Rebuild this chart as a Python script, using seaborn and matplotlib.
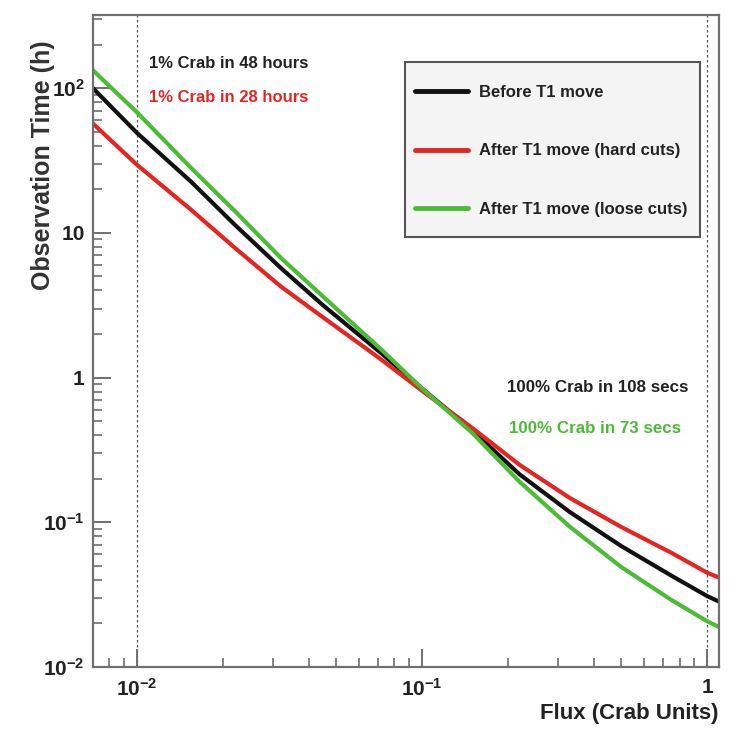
import matplotlib
matplotlib.use("Agg")
import matplotlib.pyplot as plt
from matplotlib.patches import Rectangle
from matplotlib.ticker import LogLocator, FixedLocator, FixedFormatter, NullFormatter
import numpy as np
import pandas as pd
import seaborn as sns

# ---- data ----
flux = [0.007, 0.01, 0.0155, 0.022, 0.032, 0.045, 0.072, 0.1, 0.15, 0.22, 0.33, 0.5, 0.75, 1.0, 1.1]
before = [100, 49, 22.5, 11.4, 5.7, 3.15, 1.47, 0.84, 0.43, 0.214, 0.1175, 0.0684, 0.0427, 0.0309, 0.0283]
hard = [57, 29.5, 14.4, 7.9, 4.25, 2.6, 1.33, 0.81, 0.448, 0.249, 0.147, 0.0927, 0.0614, 0.0448, 0.0415]
loose = [133, 68, 28, 14.2, 6.7, 3.62, 1.56, 0.84, 0.414, 0.19, 0.093, 0.049, 0.029, 0.0207, 0.0189]
series_names = ["Before T1 move", "After T1 move (hard cuts)", "After T1 move (loose cuts)"]
y_ticks = [0.01, 0.1, 1, 10, 100]
y_tick_labels = ["$10^{-2}$", "$10^{-1}$", "1", "10", "$10^{2}$"]
x_ticks = [0.01, 0.1, 1]
x_tick_labels = ["$10^{-2}$", "$10^{-1}$", "1"]

df = pd.DataFrame({
    "flux": flux * 3,
    "time": before + hard + loose,
    "series": [series_names[0]] * len(flux) + [series_names[1]] * len(flux) + [series_names[2]] * len(flux),
})

sns.set_style("ticks")
plt.rcParams["font.family"] = ["Liberation Sans", "DejaVu Sans"]
plt.rcParams["mathtext.fontset"] = "custom"
plt.rcParams["mathtext.rm"] = "Liberation Sans:bold"
plt.rcParams["mathtext.it"] = "Liberation Sans:bold"
plt.rcParams["mathtext.bf"] = "Liberation Sans:bold"

BLACK = "#111111"
RED = "#e52521"
GREEN = "#4dbb38"
GRAY = "#707070"

W, H = 744, 731
fig = plt.figure(figsize=(W / 100, H / 100), dpi=100)
ax = fig.add_axes([93 / W, 1 - 667 / H, (719 - 93) / W, (667 - 15) / H])

sns.lineplot(data=df, x="flux", y="time", hue="series", hue_order=series_names,
             palette=[BLACK, RED, GREEN], linewidth=3.0, ax=ax, legend=True,
             estimator=None, sort=True)

ax.set_xscale("log")
ax.set_yscale("log")
ax.set_xlim(0.00701, 1.10)
ax.set_ylim(0.01, 320)

ax.axvline(0.01, color="#555555", lw=0.9, ls=(0, (2, 2)), zorder=0)
ax.axvline(1.0, color="#555555", lw=0.9, ls=(0, (2, 2)), zorder=0)

for s in ax.spines.values():
    s.set_color(GRAY)
    s.set_linewidth(1.6)

ax.yaxis.set_major_locator(FixedLocator(y_ticks))
ax.yaxis.set_major_formatter(FixedFormatter(y_tick_labels))
ax.yaxis.set_minor_locator(LogLocator(base=10, subs=np.arange(2, 10)))
ax.yaxis.set_minor_formatter(NullFormatter())
ax.xaxis.set_major_locator(FixedLocator(x_ticks))
ax.xaxis.set_major_formatter(FixedFormatter(x_tick_labels))
ax.xaxis.set_minor_locator(LogLocator(base=10, subs=np.arange(2, 10)))
ax.xaxis.set_minor_formatter(NullFormatter())

ax.tick_params(axis="both", which="major", direction="in", length=13, width=1.4,
               color=GRAY, labelsize=15, labelcolor="#222222")
ax.tick_params(axis="both", which="minor", direction="in", length=6.5, width=1.2, color=GRAY)
ax.tick_params(axis="y", which="both", left=True, right=False, pad=6)
ax.tick_params(axis="x", which="both", bottom=True, top=False, pad=8)
for lab in ax.get_xticklabels() + ax.get_yticklabels():
    lab.set_fontweight("bold")

ax.set_xlabel("Flux (Crab Units)", fontsize=16, fontweight="bold", color="#222222")
ax.xaxis.set_label_coords(1.0, -0.055)
ax.xaxis.label.set_horizontalalignment("right")
ax.set_ylabel("Observation Time (h)", fontsize=18, fontweight="bold", color="#333333")
ax.yaxis.set_label_coords((55 - 93) / 626, 1 - (40 - 15) / 652)
ax.yaxis.label.set_horizontalalignment("right")

# legend box (drawn as a frame patch) and legend entries
to_ax = lambda px, py: ((px - 93) / 626, (667 - py) / 652)
bx0, by0 = to_ax(405, 237)
bx1, by1 = to_ax(700, 62)
ax.add_patch(Rectangle((bx0, by0), bx1 - bx0, by1 - by0, transform=ax.transAxes,
                       facecolor="#f4f4f4", edgecolor="#555555", linewidth=1.5, zorder=5))
leg = ax.legend(loc="upper left", bbox_to_anchor=to_ax(415, 85),
                frameon=False, fontsize=12, handlelength=3.2,
                labelspacing=2.6, borderpad=0, borderaxespad=0, handletextpad=0.66)
leg.set_zorder(6)
for t in leg.get_texts():
    t.set_fontweight("bold")
    t.set_color("#222222")
for h in leg.get_lines():
    h.set_linewidth(3.5)

ax.text(0.089, 0.925, "1% Crab in 48 hours", transform=ax.transAxes, fontsize=12,
        fontweight="bold", color="#222222", va="center")
ax.text(0.089, 0.874, "1% Crab in 28 hours", transform=ax.transAxes, fontsize=12,
        fontweight="bold", color=RED, va="center")
ax.text(0.661, 0.428, "100% Crab in 108 secs", transform=ax.transAxes, fontsize=12.2,
        fontweight="bold", color="#222222", va="center")
ax.text(0.664, 0.366, "100% Crab in 73 secs", transform=ax.transAxes, fontsize=12.2,
        fontweight="bold", color=GREEN, va="center")

fig.savefig("out.png", dpi=100)
